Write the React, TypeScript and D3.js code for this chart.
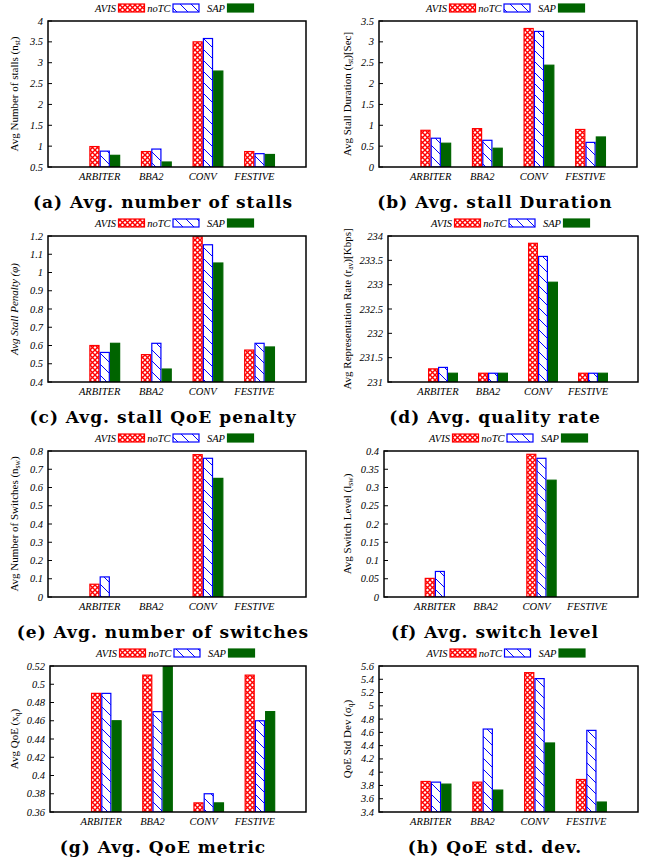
import React from 'react';
import * as d3 from 'd3';

// categories and series
const categories = ['ARBITER', 'BBA2', 'CONV', 'FESTIVE'];
const seriesNames = ['AVIS', 'noTC', 'SAP'];

// values per panel: one row per series (AVIS, noTC, SAP), one column per category
const avgStalls = [
  [0.99, 0.87, 3.5, 0.87],
  [0.88, 0.93, 3.58, 0.82],
  [0.78, 0.62, 2.8, 0.8],
];
const stallDuration = [
  [0.88, 0.92, 3.32, 0.9],
  [0.69, 0.64, 3.25, 0.59],
  [0.57, 0.45, 2.44, 0.72],
];
const stallPenalty = [
  [0.6, 0.55, 1.195, 0.575],
  [0.562, 0.612, 1.152, 0.612],
  [0.612, 0.471, 1.052, 0.592],
];
const qualityRate = [
  [231.27, 231.18, 233.85, 231.18],
  [231.3, 231.18, 233.58, 231.18],
  [231.18, 231.18, 233.05, 231.18],
];
const numSwitches = [
  [0.07, 0, 0.78, 0],
  [0.11, 0, 0.76, 0],
  [0, 0, 0.65, 0],
];
const switchLevel = [
  [0.051, 0, 0.391, 0],
  [0.07, 0, 0.38, 0],
  [0, 0, 0.32, 0],
];
const qoeMetric = [
  [0.49, 0.51, 0.37, 0.51],
  [0.49, 0.47, 0.38, 0.46],
  [0.46, 0.52, 0.37, 0.47],
];
const qoeStd = [
  [3.86, 3.85, 5.5, 3.89],
  [3.85, 4.65, 5.41, 4.63],
  [3.82, 3.73, 4.44, 3.55],
];

// tick labels
const ticksA = [0.5, 1, 1.5, 2, 2.5, 3, 3.5, 4];
const ticksB = [0, 0.5, 1, 1.5, 2, 2.5, 3, 3.5];
const ticksC = [0.4, 0.5, 0.6, 0.7, 0.8, 0.9, 1, 1.1, 1.2];
const ticksD = [231, 231.5, 232, 232.5, 233, 233.5, 234];
const ticksE = [0, 0.1, 0.2, 0.3, 0.4, 0.5, 0.6, 0.7, 0.8];
const ticksF = [0, 0.05, 0.1, 0.15, 0.2, 0.25, 0.3, 0.35, 0.4];
const ticksG = [0.36, 0.38, 0.4, 0.42, 0.44, 0.46, 0.48, 0.5, 0.52];
const ticksH = [3.4, 3.6, 3.8, 4, 4.2, 4.4, 4.6, 4.8, 5, 5.2, 5.4, 5.6];

const captions = [
  '(a) Avg. number of stalls',
  '(b) Avg. stall Duration',
  '(c) Avg. stall QoE penalty',
  '(d) Avg. quality rate',
  '(e) Avg. number of switches',
  '(f) Avg. switch level',
  '(g) Avg. QoE metric',
  '(h) QoE std. dev.',
];

const panels = [
  { data: avgStalls, ticks: ticksA, label: ['Avg Number of stalls (n', 'st', ')'], left: 48, right: 306 },
  { data: stallDuration, ticks: ticksB, label: ['Avg Stall Duration (t', 'st', ')[Sec]'], left: 379, right: 637 },
  { data: stallPenalty, ticks: ticksC, label: ['Avg Stall Penalty (\u03c6)', '', ''], italic: true, left: 48, right: 306 },
  { data: qualityRate, ticks: ticksD, label: ['Avg Representation Rate (r', 'av', ')[Kbps]'], left: 388, right: 638 },
  { data: numSwitches, ticks: ticksE, label: ['Avg Number of Switches (n', 'sw', ')'], left: 48, right: 306 },
  { data: switchLevel, ticks: ticksF, label: ['Avg Switch Level (l', 'sw', ')'], left: 384, right: 638 },
  { data: qoeMetric, ticks: ticksG, label: ['Avg QoE (x', 'q', ')'], left: 50, right: 306 },
  { data: qoeStd, ticks: ticksH, label: ['QoE Std Dev (\u03c3', 'q', ')'], left: 379, right: 638 },
];

const fills = ['url(#xhatch)', 'url(#dhatch)', '#006400'];
const strokes = ['#ff0000', '#0000ff', '#006400'];
const offsets = [-0.1, 0.1, 0.3];
const serif = '"Liberation Serif", "Times New Roman", serif';

const Panel = ({ p, i }) => {
  const col = i % 2;
  const top = Math.floor(i / 2) * 215;
  const y0 = top + 21;
  const y1 = top + 167;
  const x = d3.scaleLinear().domain([-1, 4]).range([p.left, p.right]);
  const y = d3.scaleLinear().domain(d3.extent(p.ticks)).range([y1, y0]);
  const unit = x(1) - x(0);
  const cx = (p.left + p.right) / 2;
  const labelX = col === 0 ? 18 : 351;
  const capX = col === 0 ? 163 : 495;
  const clipId = `clip${i}`;
  const fmt = v => String(+v.toFixed(3));

  return (
    <g>
      <clipPath id={clipId}>
        <rect x={p.left} y={y0} width={p.right - p.left} height={y1 - y0} />
      </clipPath>

      {/* legend */}
      {seriesNames.map((s, j) => {
        const tx = cx - 61 + j * 54.5;
        return (
          <g key={s}>
            <text x={tx} y={top + 11.5} textAnchor="end" fontFamily={serif} fontStyle="italic" fontSize={10.5}>{s}</text>
            <rect x={tx + 2.5} y={top + 4} width={26} height={8} fill={fills[j]} stroke={strokes[j]} strokeWidth={1.2} />
          </g>
        );
      })}

      {/* bars */}
      <g clipPath={`url(#${clipId})`}>
        {p.data.map((row, j) =>
          row.map((v, k) => {
            const bx = x(k + offsets[j]) - unit * 0.1;
            const by = y(v);
            if (y1 - by < 0.5) return null;
            return (
              <rect key={`${j}-${k}`} x={bx + 0.6} y={by} width={unit * 0.2 - 1.2} height={y1 - by}
                fill={fills[j]} stroke={strokes[j]} strokeWidth={1.2} />
            );
          })
        )}
      </g>

      {/* frame and ticks */}
      <rect x={p.left} y={y0} width={p.right - p.left} height={y1 - y0} fill="none" stroke="#000" strokeWidth={1.5} />
      {p.ticks.map(t => (
        <g key={t}>
          <line x1={p.left} x2={p.left + 4} y1={y(t)} y2={y(t)} stroke="#000" strokeWidth={1} />
          <text x={p.left - 5} y={y(t) + 3.5} textAnchor="end" fontFamily={serif} fontStyle="italic" fontSize={10.5}>{fmt(t)}</text>
        </g>
      ))}
      {categories.map((c, k) => (
        <text key={c} x={x(k)} y={top + 180} textAnchor="middle" fontFamily={serif} fontStyle="italic" fontSize={10.5}>{c}</text>
      ))}

      {/* y label */}
      <text transform={`translate(${labelX},${(y0 + y1) / 2}) rotate(-90)`} textAnchor="middle"
        fontFamily={serif} fontSize={11} fontStyle={p.italic ? 'italic' : 'normal'}>
        {p.label[0]}
        {p.label[1] && <tspan fontSize={7.5} dy={2}>{p.label[1]}</tspan>}
        {p.label[2] && <tspan dy={-2}>{p.label[2]}</tspan>}
      </text>

      {/* caption */}
      <text x={capX} y={top + 208} textAnchor="middle" fontFamily='"DejaVu Serif", serif' fontWeight="bold"
        fontSize={17} letterSpacing={1}>
        {captions[i]}
      </text>
    </g>
  );
};

export default function App() {
  return (
    <svg width={650} height={860} style={{ position: 'absolute', left: 0, top: 0, background: '#fff' }}>
      <defs>
        <pattern id="xhatch" patternUnits="userSpaceOnUse" width={5} height={5}>
          <rect width={5} height={5} fill="#fff" />
          <path d="M0,0L5,5M5,0L0,5" stroke="#ff0000" strokeWidth={1.4} />
        </pattern>
        <pattern id="dhatch" patternUnits="userSpaceOnUse" width={11} height={11}>
          <rect width={11} height={11} fill="#fff" />
          <path d="M0,0L11,11M-2,9L2,13M9,-2L13,2" stroke="#0000ff" strokeWidth={1} />
        </pattern>
      </defs>
      <rect width={650} height={860} fill="#fff" />
      {panels.map((p, i) => <Panel key={i} p={p} i={i} />)}
    </svg>
  );
}
